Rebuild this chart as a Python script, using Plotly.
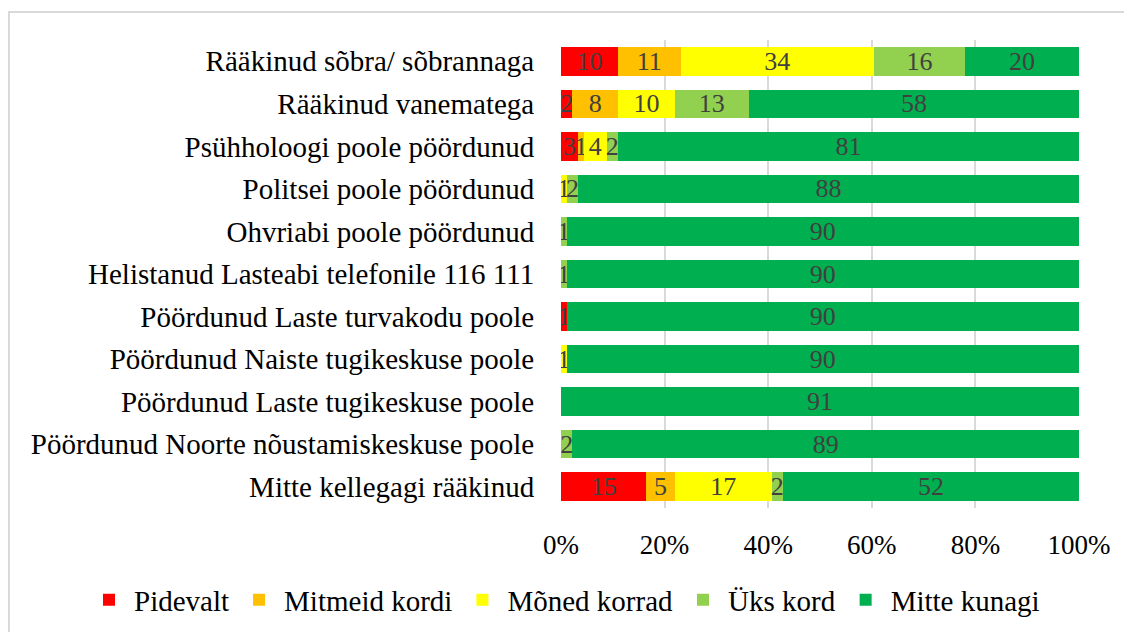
import plotly.graph_objects as go

categories = [
    "Rääkinud sõbra/ sõbrannaga",
    "Rääkinud vanematega",
    "Psühholoogi poole pöördunud",
    "Politsei poole pöördunud",
    "Ohvriabi poole pöördunud",
    "Helistanud Lasteabi telefonile 116 111",
    "Pöördunud Laste turvakodu poole",
    "Pöördunud Naiste tugikeskuse poole",
    "Pöördunud Laste tugikeskuse poole",
    "Pöördunud Noorte nõustamiskeskuse poole",
    "Mitte kellegagi rääkinud",
]

pidevalt = [10, 2, 3, 0, 0, 0, 1, 0, 0, 0, 15]
mitmeid_kordi = [11, 8, 1, 0, 0, 0, 0, 0, 0, 0, 5]
moned_korrad = [34, 10, 4, 1, 0, 0, 0, 1, 0, 0, 17]
uks_kord = [16, 13, 2, 2, 1, 1, 0, 0, 0, 2, 2]
mitte_kunagi = [20, 58, 81, 88, 90, 90, 90, 90, 91, 89, 52]

tick_vals = [0, 20, 40, 60, 80, 100]
tick_text = ["0%", "20%", "40%", "60%", "80%", "100%"]

series = [
    ("Pidevalt", pidevalt, "#ff0000"),
    ("Mitmeid kordi", mitmeid_kordi, "#ffc000"),
    ("Mõned korrad", moned_korrad, "#ffff00"),
    ("Üks kord", uks_kord, "#92d050"),
    ("Mitte kunagi", mitte_kunagi, "#00b050"),
]

serif = "Liberation Serif"

fig = go.Figure()
for name, vals, color in series:
    fig.add_trace(go.Bar(
        y=categories,
        x=vals,
        name=name,
        orientation="h",
        marker=dict(color=color, line=dict(width=0)),
        text=[str(v) if v else "" for v in vals],
        textposition="inside",
        insidetextanchor="middle",
        textangle=0,
        constraintext="none",
        textfont=dict(family=serif, size=26, color="#404040"),
    ))

# page body adds 8px offset, so figure is 8px smaller than the window
W, H = 1124, 624
L, R, T, B = 553, 53, 32, 124
pw, ph = W - L - R, H - T - B

fig.update_layout(
    barmode="stack",
    barnorm="percent",
    bargap=0.33,
    width=W,
    height=H,
    plot_bgcolor="white",
    paper_bgcolor="white",
    margin=dict(l=L, r=R, t=T, b=B, autoexpand=False),
    font=dict(family=serif, size=29, color="black"),
    legend=dict(
        orientation="h",
        xref="paper", yref="paper",
        x=(76 - L) / pw, xanchor="left",
        y=(ph + T - (600 - 8)) / ph, yanchor="middle",
        font=dict(family=serif, size=29, color="black"),
        traceorder="normal",
        itemwidth=40,
    ),
    shapes=[dict(
        type="rect", xref="paper", yref="paper",
        x0=(1 - L) / pw, x1=(W + 10 - L) / pw,
        y0=(ph + T - (H + 10)) / ph, y1=(ph + T - 4) / ph,
        line=dict(color="#d9d9d9", width=2),
        layer="below",
    )],
)

fig.update_xaxes(
    range=[0, 100],
    tickmode="array",
    tickvals=tick_vals,
    ticktext=tick_text,
    ticks="outside",
    ticklen=13,
    tickcolor="rgba(0,0,0,0)",
    showgrid=True,
    gridcolor="#d9d9d9",
    gridwidth=2,
    zeroline=False,
    tickfont=dict(family=serif, size=27, color="black"),
)
fig.update_yaxes(
    autorange="reversed",
    showgrid=False,
    ticks="outside",
    ticklen=20,
    tickcolor="rgba(0,0,0,0)",
    tickfont=dict(family=serif, size=29, color="black"),
)

fig.write_html("out.html")
